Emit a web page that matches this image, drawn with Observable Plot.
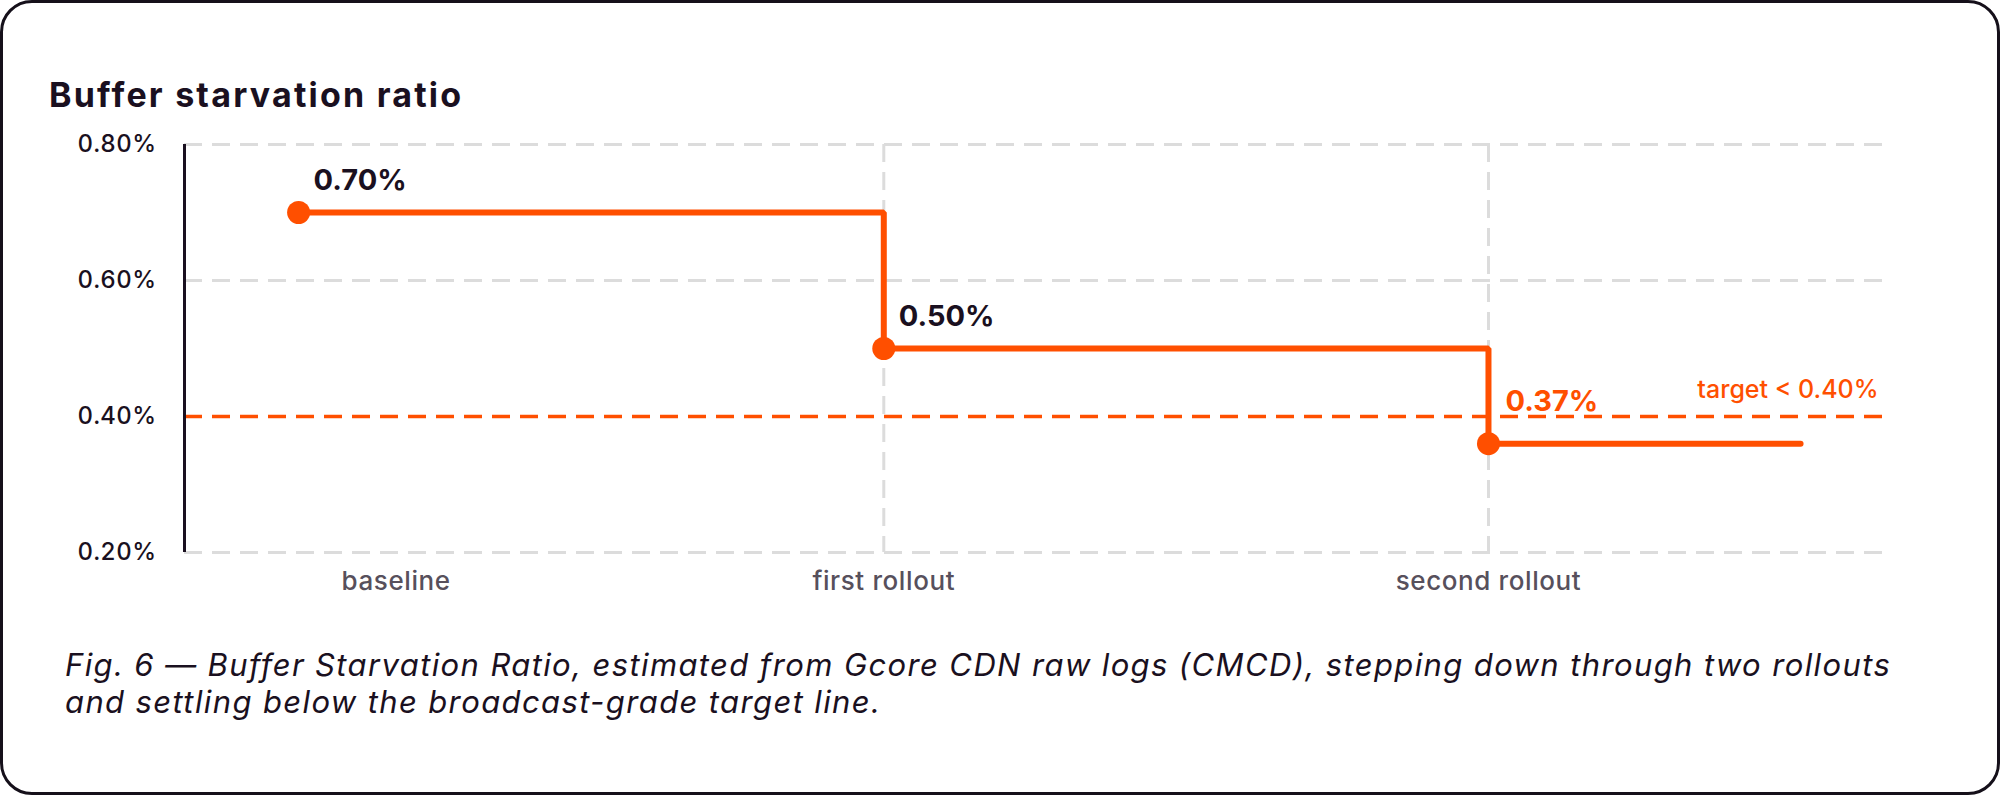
<!DOCTYPE html>
<html>
<head>
<meta charset="utf-8">
<script src="https://cdn.jsdelivr.net/npm/d3@7"></script>
<script src="https://cdn.jsdelivr.net/npm/@observablehq/plot@0.6"></script>
<style>
  html, body { margin: 0; padding: 0; background: #fff; overflow: hidden; }
  #card { position: relative; width: 2000px; height: 795px; background: #fff; font-family: Inter, "Noto Sans", sans-serif; }
  #border { position: absolute; left: 0; top: 0; width: 2000px; height: 795px; box-sizing: border-box; border: 3px solid #15101a; border-radius: 32px; pointer-events: none; }
  #title { position: absolute; left: 49px; top: 78px; font-size: 34px; line-height: 34px; font-weight: 700; letter-spacing: 2.2px; color: #1a1020; white-space: nowrap; }
  #chart { position: absolute; left: 0; top: 0; }
  #caption { position: absolute; left: 65px; top: 646px; font-size: 31px; line-height: 37px; font-style: italic; letter-spacing: 1.38px; color: #1a1020; white-space: nowrap; }
</style>
</head>
<body>
<div id="card">
  <div id="title">Buffer starvation ratio</div>
  <div id="chart"></div>
  <div id="caption">Fig. 6 — Buffer Starvation Ratio, estimated from Gcore CDN raw logs (CMCD), stepping down through two rollouts<br>and settling below the broadcast-grade target line.</div>
  <div id="border"></div>
</div>
<script>
// ---- data ----
const phaseDays = [0, 30, 61];              // day of each measured phase
const ratios = [0.70, 0.50, 0.36];          // buffer starvation ratio (%)
const valueLabels = ["0.70%", "0.50%", "0.37%"];
const endDay = 77;                          // last day shown
const tickDays = [5, 30, 61];
const tickLabels = ["baseline", "first rollout", "second rollout"];
const rolloutDays = [30, 61];
const yTicks = [0.2, 0.4, 0.6, 0.8];
const targetValue = 0.4;
const targetLabel = "target < 0.40%";

// ---- derived tables ----
const points = phaseDays.map((d, i) => ({day: d, ratio: ratios[i], label: valueLabels[i]}));
const stepLine = [...points, {day: endDay, ratio: ratios[ratios.length - 1]}];

const ORANGE = "#ff4f00";
const DARK = "#1a1020";
const GRID = "#dcdcdc";
const GRAY = "#57505c";
const xDomain = [-5.85, 81.2];

const chart = Plot.plot({
  width: 2000,
  height: 620,
  marginTop: 144,
  marginBottom: 68,
  marginLeft: 184,
  marginRight: 118,
  style: {fontFamily: "Inter, 'Noto Sans', sans-serif", background: "transparent", overflow: "visible"},
  x: {domain: xDomain},
  y: {domain: [0.2, 0.8]},
  marks: [
    Plot.gridY({ticks: yTicks, stroke: GRID, strokeOpacity: 1, strokeWidth: 3, strokeDasharray: "18,10"}),
    Plot.ruleX(rolloutDays, {stroke: GRID, strokeOpacity: 1, strokeWidth: 3, strokeDasharray: "18,10"}),
    Plot.ruleY([targetValue], {stroke: ORANGE, strokeWidth: 3.3, strokeDasharray: "18,10"}),
    Plot.ruleX([xDomain[0]], {stroke: DARK, strokeWidth: 3}),
    Plot.axisY({ticks: yTicks, tickFormat: d => d.toFixed(2) + "%", tickSize: 0, tickPadding: 28,
      fontSize: 24, fontWeight: 500, color: DARK, label: null}),
    Plot.axisX({ticks: tickDays, tickFormat: d => tickLabels[tickDays.indexOf(d)], tickSize: 0, tickPadding: 19,
      fontSize: 26, fontWeight: 500, color: GRAY, label: null}),
    Plot.line(stepLine, {x: "day", y: "ratio", curve: "step-after", stroke: ORANGE, strokeWidth: 6,
      strokeLinecap: "round", strokeLinejoin: "miter"}),
    Plot.dot(points, {x: "day", y: "ratio", r: 11.5, fill: ORANGE, stroke: null}),
    Plot.text(points, {filter: (d, i) => i < points.length - 1, x: "day", y: "ratio", text: "label",
      textAnchor: "start", lineAnchor: "bottom", dx: 15, dy: -23, fontSize: 29, fontWeight: 700, fill: DARK, ariaLabel: "vlab"}),
    Plot.text(points, {filter: (d, i) => i === points.length - 1, x: "day", y: "ratio", text: "label",
      textAnchor: "start", lineAnchor: "bottom", dx: 17, dy: -33, fontSize: 29, fontWeight: 700, fill: ORANGE, ariaLabel: "vlab"}),
    Plot.text([targetValue], {y: d => d, frameAnchor: "right", text: () => targetLabel, textAnchor: "end",
      lineAnchor: "bottom", dx: -4, dy: -19, fontSize: 25, fontWeight: 500, fill: ORANGE, ariaLabel: "tlab"})
  ]
});
const sel = d3.select(chart);
sel.selectAll('g[aria-label="y-axis tick label"] text').attr("letter-spacing", "0.4");
sel.selectAll('g[aria-label="x-axis tick label"] text').attr("letter-spacing", "0.6");
sel.selectAll('g[aria-label="vlab"] text').attr("letter-spacing", "0.6");
sel.selectAll('g[aria-label="tlab"] text').attr("letter-spacing", "0.5");
document.getElementById("chart").appendChild(chart);
</script>
</body>
</html>
